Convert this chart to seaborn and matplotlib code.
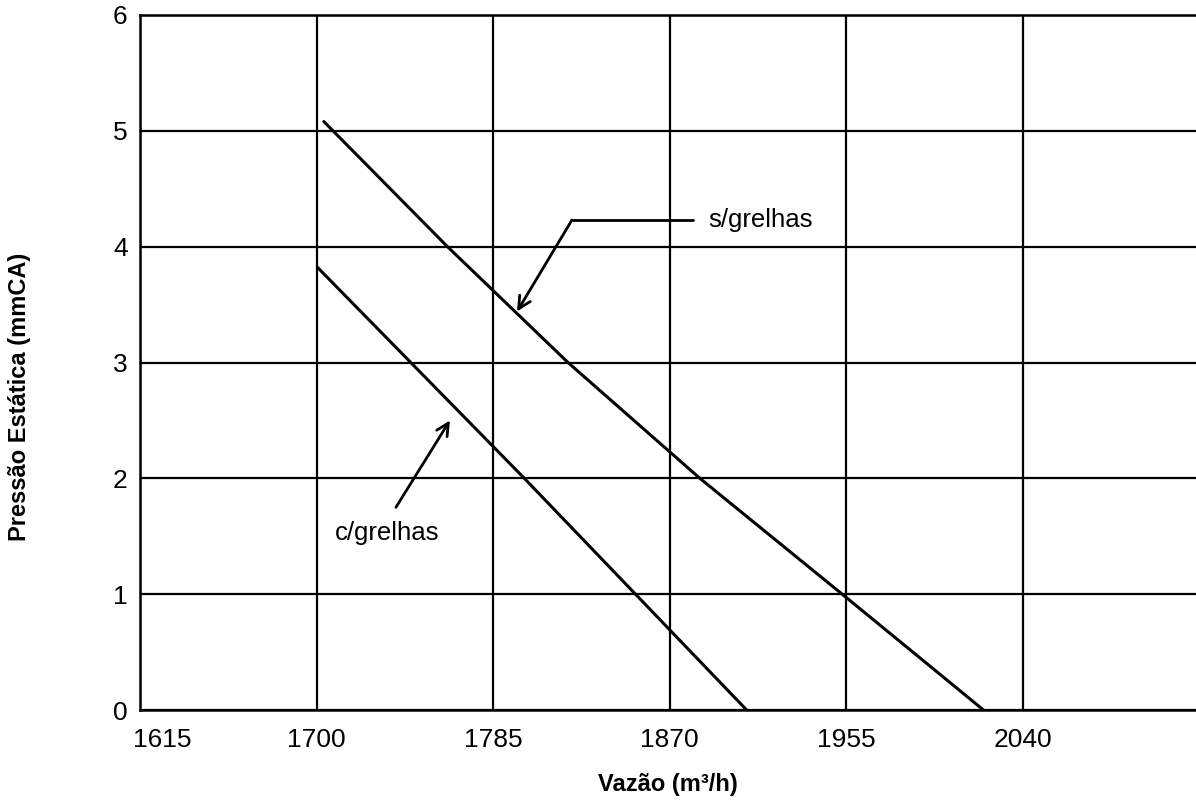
import pandas as pd
import seaborn as sns
import matplotlib.pyplot as plt
import matplotlib.transforms as mtransforms

# Curve data:
vazao_sem = [1703.5, 1763, 1821, 1884.5, 1953, 2021]
pressao_sem = [5.08, 4.0, 3.0, 2.0, 1.0, 0.0]
vazao_com = [1700.5, 1800, 1853.5, 1907]
pressao_com = [3.82, 2.0, 1.0, 0.0]
x_ticks = [1615, 1700, 1785, 1870, 1955, 2040]
y_ticks = [0, 1, 2, 3, 4, 5, 6]

df = pd.concat([
    pd.DataFrame({'vazao': vazao_sem, 'pressao': pressao_sem, 'curva': 's/grelhas'}),
    pd.DataFrame({'vazao': vazao_com, 'pressao': pressao_com, 'curva': 'c/grelhas'}),
])

sns.set_style('white')
plt.rcParams['font.family'] = ['Liberation Sans', 'DejaVu Sans']
plt.rcParams['text.color'] = 'black'
plt.rcParams['axes.labelcolor'] = 'black'
plt.rcParams['xtick.color'] = 'black'
plt.rcParams['ytick.color'] = 'black'

fig, ax = plt.subplots(figsize=(11.96, 8.06), dpi=100)
ax.set_position([140 / 1196, 96 / 806, 1056 / 1196, 695 / 806])

sns.lineplot(data=df, x='vazao', y='pressao', hue='curva', units='curva', estimator=None,
             palette={'s/grelhas': 'black', 'c/grelhas': 'black'}, linewidth=2.2,
             legend=False, sort=False, ax=ax)

ax.set_xlim(1615, 2123.3)
ax.set_ylim(0, 6)
ax.set_xticks(x_ticks)
ax.set_yticks(y_ticks)
ax.tick_params(axis='both', length=0, labelsize=19)
ax.tick_params(axis='x', pad=13)
ax.tick_params(axis='y', pad=9)
ax.grid(True, color='black', linewidth=1.6)
for side in ['left', 'top', 'bottom']:
    ax.spines[side].set_color('black')
    ax.spines[side].set_linewidth(1.8)
ax.spines['right'].set_visible(False)

# first x label sits to the right of the "0" label
first = ax.get_xticklabels()[0]
first.set_horizontalalignment('left')
first.set_transform(first.get_transform() +
                    mtransforms.ScaledTranslation(-7 / 100, 0, fig.dpi_scale_trans))

ax.set_xlabel('Vazão (m³/h)', fontsize=17, fontweight='bold')
ax.xaxis.set_label_coords(0.5, -0.091)
ax.set_ylabel('Pressão Estática (mmCA)', fontsize=17, fontweight='bold')
ax.yaxis.set_label_coords(-0.103, 0.45)

# Annotations
ax.plot([1822.9, 1881.0], [4.23, 4.23], color='black', linewidth=2)
ax.annotate('', xy=(1796.5, 3.44), xytext=(1822.9, 4.23),
            arrowprops=dict(arrowstyle='->', color='black', lw=2, mutation_scale=22,
                            shrinkA=0, shrinkB=0))
ax.text(1888.4, 4.23, 's/grelhas', fontsize=18.5, va='center', ha='left')

ax.annotate('', xy=(1764.2, 2.50), xytext=(1738.2, 1.75),
            arrowprops=dict(arrowstyle='->', color='black', lw=2, mutation_scale=22,
                            shrinkA=0, shrinkB=0))
ax.text(1708.9, 1.53, 'c/grelhas', fontsize=18.5, va='center', ha='left')

plt.savefig('out.png', dpi=100)
